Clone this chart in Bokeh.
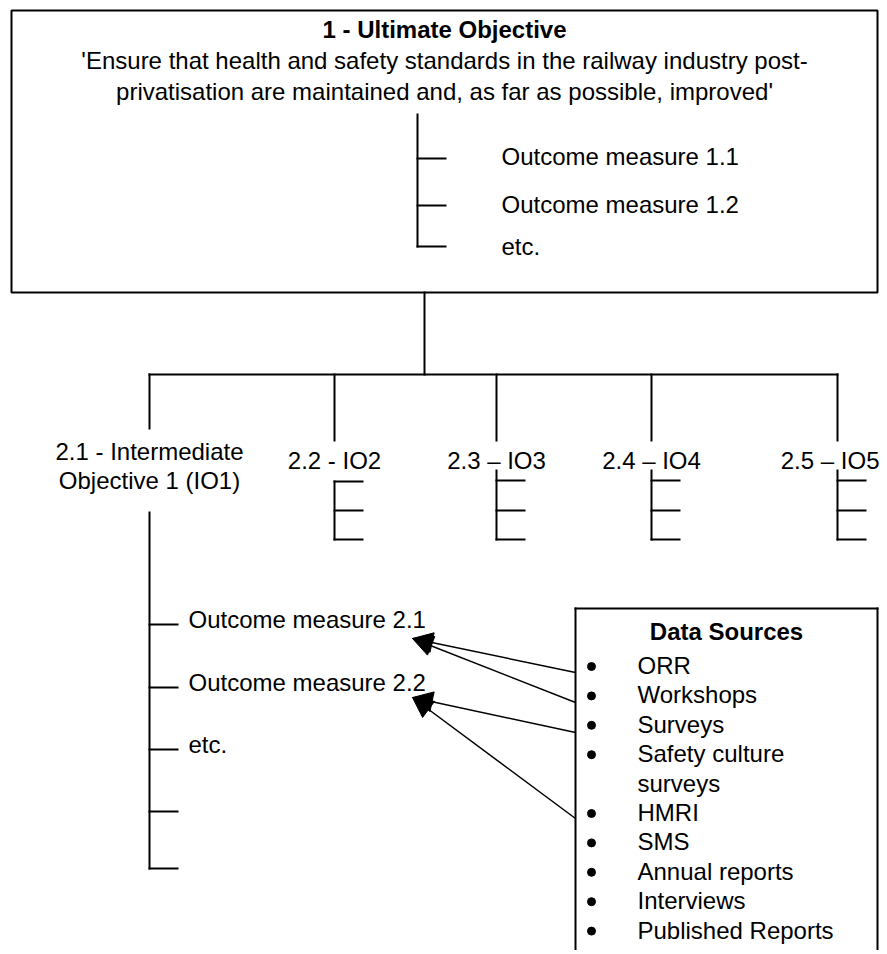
from bokeh.plotting import figure
from bokeh.models import Range1d, Arrow, NormalHead
from bokeh.core.properties import value
from bokeh.embed import file_html
from bokeh.resources import INLINE

FONT = "Liberation Sans"

# ---- diagram content ----
objective_title = "1 - Ultimate Objective"
objective_text = [
    "'Ensure that health and safety standards in the railway industry post-",
    "privatisation are maintained and, as far as possible, improved'",
]
top_measures = ["Outcome measure 1.1", "Outcome measure 1.2", "etc."]
io_labels = [
    ["2.1 - Intermediate", "Objective 1 (IO1)"],
    ["2.2 - IO2"],
    ["2.3 \u2013 IO3"],
    ["2.4 \u2013 IO4"],
    ["2.5 \u2013 IO5"],
]
io1_measures = ["Outcome measure 2.1", "Outcome measure 2.2", "etc.", "", ""]
sources_title = "Data Sources"
data_sources = [
    ["ORR"], ["Workshops"], ["Surveys"], ["Safety culture", "surveys"],
    ["HMRI"], ["SMS"], ["Annual reports"], ["Interviews"], ["Published Reports"],
]
# (source index, outcome-measure index)
links = [(0, 0), (1, 0), (2, 1), (4, 1)]

# ---- layout (page pixel coordinates) ----
W, H = 880, 950
p = figure(width=W, height=H, x_range=Range1d(0, W), y_range=Range1d(H, 0),
           output_backend="svg", toolbar_location=None, min_border=0)
p.axis.visible = False
p.grid.visible = False
p.outline_line_color = None
p.background_fill_color = "white"
p.border_fill_color = "white"

LW = 2
x0s, y0s, x1s, y1s = [], [], [], []


def seg(a, b, c, d):
    x0s.append(a); y0s.append(b); x1s.append(c); y1s.append(d)


# top box
p.quad(left=[11], right=[877], top=[10], bottom=[292], fill_color="white",
       line_color="black", line_width=LW)

# top box outcome tree
tx = 417
top_ticks = [158, 205, 246]
seg(tx, 114, tx, top_ticks[-1])
for ty in top_ticks:
    seg(tx, ty, tx + 28, ty)

# connector and bar
io_x = [149, 334, 496, 651, 837]
bar_y = 374
seg(424, 292, 424, bar_y)
seg(io_x[0], bar_y, io_x[-1], bar_y)
for i, x in enumerate(io_x):
    seg(x, bar_y, x, 428 if i == 0 else 440)

# small trees under IO2..IO5
for i, x in enumerate(io_x[1:]):
    top = 481 if i == 0 else 470
    ticks = [481 if i == 0 else 480, 510, 539]
    seg(x, top, x, ticks[-1])
    for ty in ticks:
        seg(x, ty, x + 28, ty)

# IO1 tree
io1_ticks = [624, 687, 749, 811, 868]
seg(io_x[0], 512, io_x[0], io1_ticks[-1])
for ty in io1_ticks:
    seg(io_x[0], ty, io_x[0] + 28, ty)

# data sources box (open at the bottom)
bx0, bx1, by0 = 575, 877, 608
seg(bx0, by0, bx0, 960)
seg(bx0, by0, bx1, by0)
seg(bx1, by0, bx1, 960)

p.segment(x0=x0s, y0=y0s, x1=x1s, y1=y1s, line_color="black", line_width=LW,
          line_cap="square")

# ---- texts ----
def txt(xs, ys, texts, align="left", bold=False, size="24px"):
    p.text(x=xs, y=ys, text=texts, text_font=value(FONT), text_font_size=size,
           text_align=align, text_baseline="alphabetic", text_color="black",
           text_font_style="bold" if bold else "normal")


txt([444], [29], [objective_title], align="center", bold=True)
txt([444, 444], [60, 91], objective_text, align="center")
txt([501] * 3, [156, 204, 246], top_measures)

# IO labels
txt([io_x[0], io_x[0]], [451, 480], io_labels[0], align="center")
txt(io_x[1:4], [460] * 3, [l[0] for l in io_labels[1:4]], align="center")
txt([879], [460], [io_labels[4][0]], align="right")

# IO1 outcome measures
m_y = [619, 682, 744, 806, 863]
txt([188] * len(io1_measures), m_y, io1_measures)

# data sources
txt([(bx0 + bx1) / 2], [631], [sources_title], align="center", bold=True)
line_step = 29.4
y = 665
bullet_y, text_x, text_y, text_s = [], [], [], []
for item in data_sources:
    bullet_y.append(y + 1)
    for line in item:
        text_x.append(637); text_y.append(y); text_s.append(line)
        y += line_step
txt(text_x, text_y, text_s)
p.scatter(x=[591] * len(bullet_y), y=bullet_y, size=8, color="black")

# arrows from sources to measures
start_y = {0: 672, 1: 702, 2: 732, 4: 818}
tip_y = [638, 697]
for si, mi in links:
    p.add_layout(Arrow(end=NormalHead(size=20, fill_color="black", line_color="black",
                                      line_width=1),
                       x_start=bx0, y_start=start_y[si], x_end=412, y_end=tip_y[mi],
                       line_color="black", line_width=1.5))

open("out.html", "w").write(file_html(p, INLINE))
